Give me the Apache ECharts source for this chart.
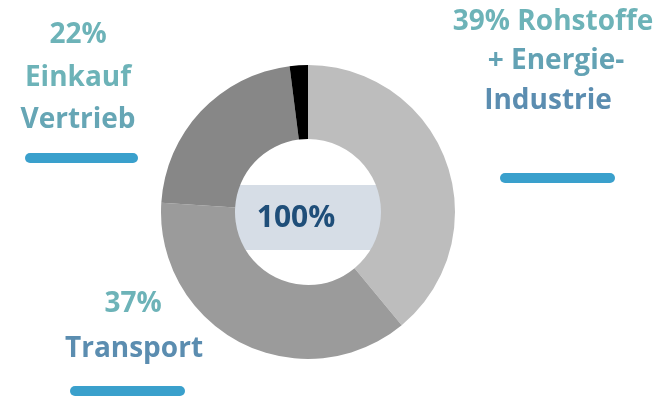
<!DOCTYPE html>
<html>
<head>
<meta charset="utf-8">
<script src="https://cdn.jsdelivr.net/npm/echarts@6/dist/echarts.min.js"></script>
<style>
  html, body { margin: 0; padding: 0; background: #fff; }
  #chart { width: 667px; height: 401px; }
</style>
</head>
<body>
<div id="chart"></div>
<script>
// Anteile (im Uhrzeigersinn ab 12 Uhr)
var names = ['Rohstoffe + Energie-Industrie', 'Transport', 'Einkauf Vertrieb', 'Sonstiges'];
var values = [39, 37, 22, 2];
var colors = ['#bdbdbd', '#9b9b9b', '#878787', '#000000'];
var totalText = '100%';

var myChart = echarts.init(document.getElementById('chart'));

var labelFont = 'bold 28px "Open Sans"';
var teal = '#6db3b8';
var blue = '#5b8db0';

// blauer Balken unter der Beschriftung
function bar(x, y, w) {
  return {
    type: 'rect',
    shape: { x: x, y: y, width: w, height: 10, r: 5 },
    style: { fill: '#3aa0cc' }
  };
}

function label(x, y, text, color) {
  return {
    type: 'text',
    style: {
      x: x, y: y, text: text,
      font: labelFont, fill: color, align: 'center', verticalAlign: 'middle'
    }
  };
}

var option = {
  backgroundColor: '#fff',
  series: [
    {
      type: 'pie',
      center: [308, 212],
      radius: [73, 147],
      startAngle: 90,
      clockwise: true,
      silent: true,
      label: { show: false },
      labelLine: { show: false },
      itemStyle: { borderWidth: 0 },
      data: values.map(function (v, i) {
        return { name: names[i], value: v, itemStyle: { color: colors[i] } };
      })
    }
  ],
  graphic: [
    // Mittelfeld
    {
      type: 'rect',
      shape: { x: 235, y: 185, width: 152, height: 65 },
      style: { fill: '#d6dde6' }
    },
    {
      type: 'text',
      style: {
        x: 296, y: 218, text: totalText,
        font: 'bold 30px "Open Sans"', fill: '#1f4e79',
        align: 'center', verticalAlign: 'middle'
      }
    },
    // 22% Einkauf Vertrieb
    label(78, 35, values[2] + '%', teal),
    label(78, 78, 'Einkauf', teal),
    label(78, 120, 'Vertrieb', '#66a6b5'),
    bar(25, 153, 113),
    // 39% Rohstoffe + Energie-Industrie
    label(553, 22, values[0] + '% Rohstoffe', teal),
    label(556, 61, '+ Energie-', '#63a2b4'),
    label(548, 101, 'Industrie', blue),
    bar(500, 173, 115),
    // 37% Transport
    label(133, 304, values[1] + '%', teal),
    label(134, 349, 'Transport', blue),
    bar(70, 386, 115)
  ]
};

myChart.setOption(option);
</script>
</body>
</html>
